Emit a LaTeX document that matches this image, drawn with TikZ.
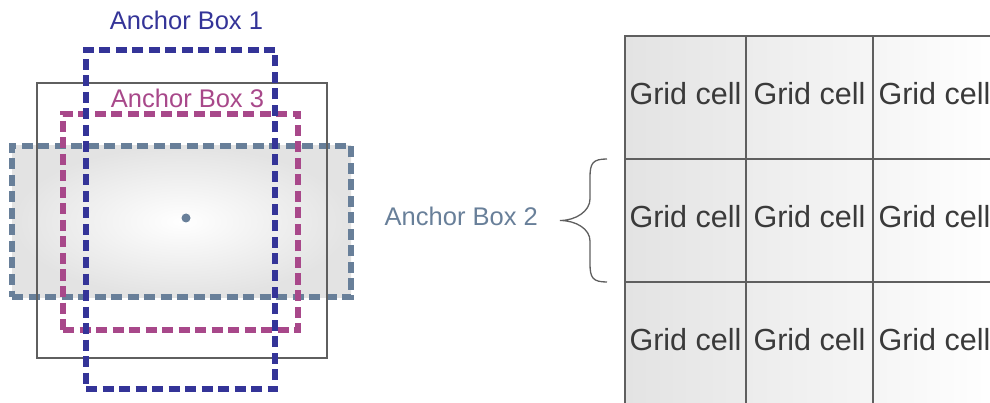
\documentclass[tikz,border=0pt]{standalone}
\usepackage{fontspec}
\setmainfont{Liberation Sans}
\usepackage{xcolor}
\usepackage{tikz}
\usetikzlibrary{positioning,calc}
\definecolor{cBoxA}{RGB}{52,52,152}
\definecolor{cBoxB}{RGB}{104,127,153}
\definecolor{cBoxC}{RGB}{168,72,138}
\definecolor{cFrame}{RGB}{95,95,95}
\definecolor{cText}{RGB}{58,58,58}
\tikzset{
  anchorbox/.style={draw, line width=5.5pt, dash pattern=on 11pt off 5.5pt,
                    inner sep=0pt, outer sep=0pt},
  frame/.style={draw=cFrame, line width=1.2pt, inner sep=0pt, outer sep=0pt},
  cell/.style={draw=cFrame, line width=1.3pt, inner sep=0pt, outer sep=0pt,
               minimum height=123pt, text depth=8pt, text=cText,
               font=\fontsize{30.5}{36}\selectfont},
  lbl/.style={inner sep=0pt, font=\fontsize{25.5}{30}\selectfont},
  brace/.style={draw=cFrame, line width=1.3pt},
}

\begin{document}
\begin{tikzpicture}[x=1pt, y=-1pt]
  \useasboundingbox (0,0) rectangle (990,403);
  \clip (0,0) rectangle (990,403);

  % ---- right: the grid ----
  \shade[left color=black!11, right color=white] (625,36) rectangle (1000,410);
  \foreach \r/\yc in {1/97.5, 2/220.5, 3/343.5} {
    \foreach \c/\xc/\w in {1/685.5/121, 2/809.5/127, 3/934.5/122} {
      \node[cell, minimum width=\w pt] (c-\r-\c) at (\xc,\yc) {Grid cell};
    }
  }

  % ---- left: the anchor boxes ----
  \node[anchorbox, draw=cBoxB, inner color=white, outer color=black!11,
        minimum width=339pt, minimum height=151pt] (box2) at (181.5,221.5) {};
  \node[frame, minimum width=290pt, minimum height=275pt] (gt) at (182,220.5) {};
  \node[anchorbox, draw=cBoxC, minimum width=235pt, minimum height=216pt] (box3) at (180.5,222) {};
  \node[anchorbox, draw=cBoxA, minimum width=189pt, minimum height=339pt] (box1) at (180.5,219.5) {};
  \fill[cBoxB] (186,218) circle (4.5pt);

  \node[lbl, text=cBoxA, above=20pt of box1, xshift=6pt] (lab1) {Anchor Box 1};
  \node[lbl, text=cBoxC, above=6pt of box3, xshift=7pt] (lab3) {Anchor Box 3};

  % brace over the middle row
  \coordinate (bt) at ([xshift=-18pt]c-2-1.north west);
  \coordinate (bb) at ([xshift=-18pt]c-2-1.south west);
  \coordinate (tip) at ($(bt)!0.5!(bb)+(-47,0)$);
  \draw[brace] (bt) .. controls +(-14,0) and +(0,-14) .. ++(-17,18)
    -- ++(0,22) .. controls +(0,12) and +(16,0) .. (tip)
    .. controls +(16,0) and +(0,-12) .. ++(30,20.5)
    -- ++(0,23) .. controls +(0,14) and +(-14,0) .. (bb);
  \node[lbl, text=cBoxB, left=22pt of tip, yshift=4pt] (lab2) {Anchor Box 2};
\end{tikzpicture}
\end{document}
